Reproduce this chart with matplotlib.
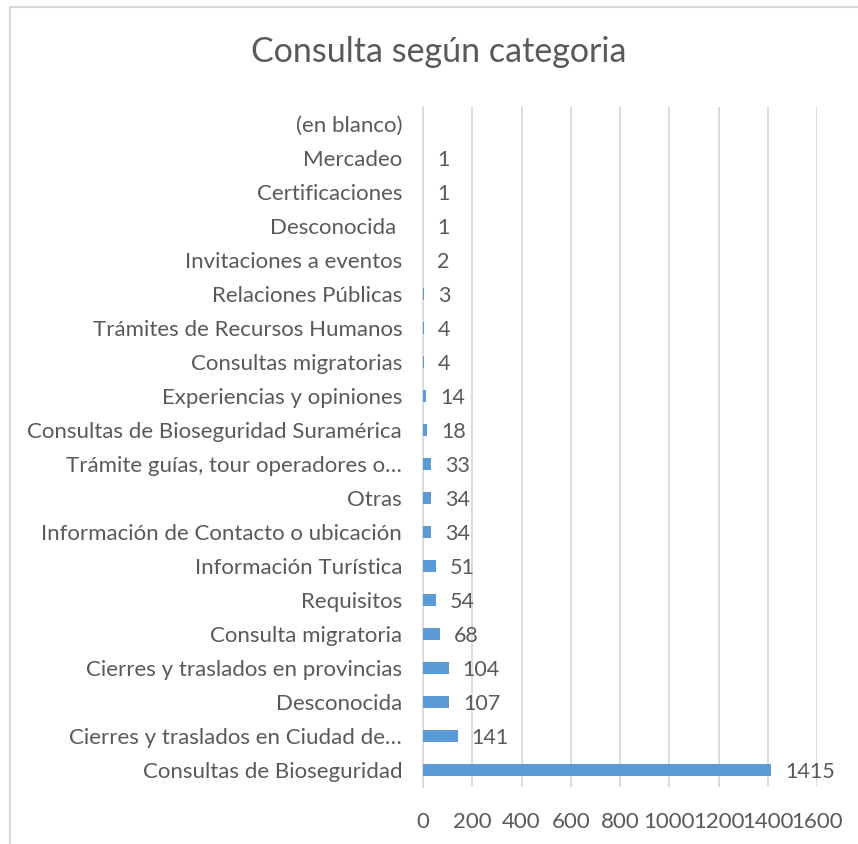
import numpy as np
import matplotlib.pyplot as plt
from matplotlib.lines import Line2D

# data (bottom to top, as in the chart)
categorias = [
    'Consultas de Bioseguridad',
    'Cierres y traslados en Ciudad de…',
    'Desconocida',
    'Cierres y traslados en provincias',
    'Consulta migratoria',
    'Requisitos',
    'Información Turística',
    'Información de Contacto o ubicación',
    'Otras',
    'Trámite guías, tour operadores o…',
    'Consultas de Bioseguridad Suramérica',
    'Experiencias y opiniones',
    'Consultas migratorias',
    'Trámites de Recursos Humanos',
    'Relaciones Públicas',
    'Invitaciones a eventos',
    'Desconocida ',
    'Certificaciones',
    'Mercadeo',
    '(en blanco)',
]
valores = [1415, 141, 107, 104, 68, 54, 51, 34, 34, 33, 18, 14, 4, 4, 3, 2, 1, 1, 1, None]
ticks_x = [0, 200, 400, 600, 800, 1000, 1200, 1400, 1600]

plt.rcParams['font.family'] = ['Lato', 'DejaVu Sans']
gris = '#595959'
azul = '#5B9BD5'

fig = plt.figure(figsize=(8.58, 8.44), dpi=100)
ax = fig.add_axes([423/858, 1 - 787/844, (817-423)/858, 680/844])

y = np.arange(len(categorias))
vals = [v if v is not None else 0 for v in valores]
ax.barh(y, vals, height=0.36, color=azul, zorder=3)

for yi, v in zip(y, valores):
    if v is None:
        continue
    ax.annotate(str(v), (v, yi), xytext=(10, -1.5), textcoords='offset points',
                va='center', ha='left', fontsize=15.5, color=gris)

ax.set_xlim(0, 1600)
ax.set_ylim(-0.5, len(categorias) - 0.5)
ax.set_xticks(ticks_x)
ax.set_xticklabels([str(t) for t in ticks_x])
ax.set_yticks(y)
ax.set_yticklabels(categorias)
ax.tick_params(axis='both', length=0, labelsize=16, labelcolor=gris)
ax.tick_params(axis='x', pad=18)
ax.tick_params(axis='y', pad=15)
ax.grid(axis='x', color='#D9D9D9', linewidth=1.3, zorder=0)
for s in ['top', 'right', 'bottom']:
    ax.spines[s].set_visible(False)
ax.spines['left'].set_color('#D9D9D9')
ax.spines['left'].set_linewidth(1.3)

fig.text(439/858, 1 - 52/844, 'Consulta según categoria', ha='center', va='center',
         fontsize=24.5, color=gris)

# chart frame (top and left edges visible)
fig.add_artist(Line2D([10/858, 1], [1 - 7/844, 1 - 7/844], color='#D9D9D9', linewidth=1.5))
fig.add_artist(Line2D([10/858, 10/858], [0, 1 - 7/844], color='#D9D9D9', linewidth=1.5))

fig.savefig('out.png', dpi=100)
